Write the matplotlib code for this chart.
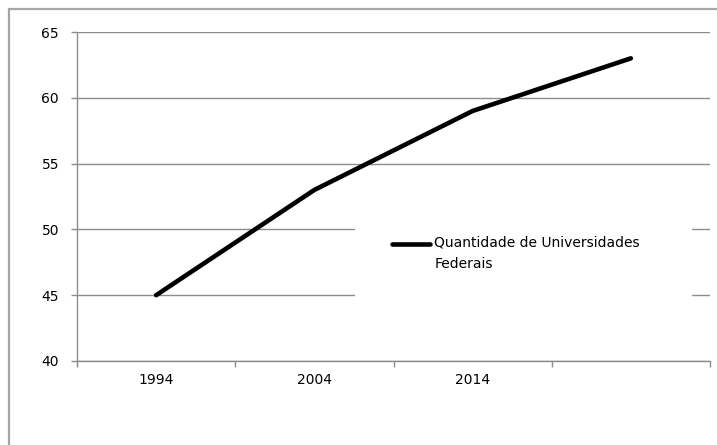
import numpy as np
import matplotlib
matplotlib.use("Agg")
import matplotlib.pyplot as plt
from matplotlib.patches import Rectangle
from matplotlib.legend_handler import HandlerLine2D

# Data
categories = ["1994", "2004", "2014", ""]
universidades = [45, 53, 59, 63]
series_label = "Quantidade de Universidades\nFederais"
y_ticks = [40, 45, 50, 55, 60, 65]

GRID = "#8c8c8c"
FONT = 10

plt.rcParams["font.family"] = ["DejaVu Sans"]

fig = plt.figure(figsize=(7.17, 4.45), dpi=100)
ax = fig.add_axes([77 / 717, 1 - 361 / 445, (710 - 77) / 717, (361 - 32) / 445])

# Chart-area border (top and left edges visible)
fig.patches.append(Rectangle((9 / 717, -0.2), 1.2, 1.2 - 9 / 445,
                             transform=fig.transFigure, fill=False,
                             edgecolor="#a6a6a6", linewidth=1.6))

x = np.arange(len(categories))
ax.plot(x, universidades, color="black", linewidth=3.3,
        solid_capstyle="round", solid_joinstyle="round", zorder=3,
        label=series_label)

ax.set_xlim(-0.5, len(categories) - 0.5)
ax.set_ylim(y_ticks[0], y_ticks[-1])

# Category boundaries carry the ticks; labels sit at category centres
ax.set_xticks(np.arange(-0.5, len(categories), 1.0))
ax.set_xticklabels([])
ax.set_xticks(x, minor=True)
ax.set_xticklabels(categories, minor=True, fontsize=FONT)
ax.tick_params(axis="x", which="major", direction="out", length=4,
               color=GRID, width=1)
ax.tick_params(axis="x", which="minor", length=0, pad=9)

ax.set_yticks(y_ticks)
ax.set_yticklabels([str(v) for v in y_ticks], fontsize=FONT)
ax.tick_params(axis="y", direction="out", length=4, color=GRID, width=1, pad=9)

ax.grid(axis="y", color=GRID, linewidth=1)
ax.set_axisbelow(True)

for side in ("top", "right"):
    ax.spines[side].set_visible(False)
for side in ("left", "bottom"):
    ax.spines[side].set_color(GRID)
    ax.spines[side].set_linewidth(1)

# White panel behind the legend
ax.add_patch(Rectangle((0.439, 0.149), 0.972 - 0.439, 0.489 - 0.149,
                       transform=ax.transAxes, facecolor="white",
                       edgecolor="none", zorder=1.5))

LINESPACING = 1.6


class FirstLineHandler(HandlerLine2D):
    """Aligns the legend line with the first line of a two-line label."""

    def create_artists(self, legend, orig_handle, xdescent, ydescent,
                       width, height, fontsize, trans):
        arts = super().create_artists(legend, orig_handle, xdescent, ydescent,
                                      width, height, fontsize, trans)
        for a in arts:
            a.set_ydata(np.asarray(a.get_ydata(), dtype=float) + 0.72 * fontsize)
        return arts


leg = ax.legend(loc="upper left", bbox_to_anchor=(0.498, 0.38),
                frameon=False, fontsize=FONT, handlelength=2.75,
                handletextpad=0.28, borderpad=0, borderaxespad=0,
                handler_map={plt.Line2D: FirstLineHandler()})
for t in leg.get_texts():
    t.set_linespacing(LINESPACING)
leg.set_zorder(5)

fig.savefig("out.png", dpi=100, facecolor="white")
